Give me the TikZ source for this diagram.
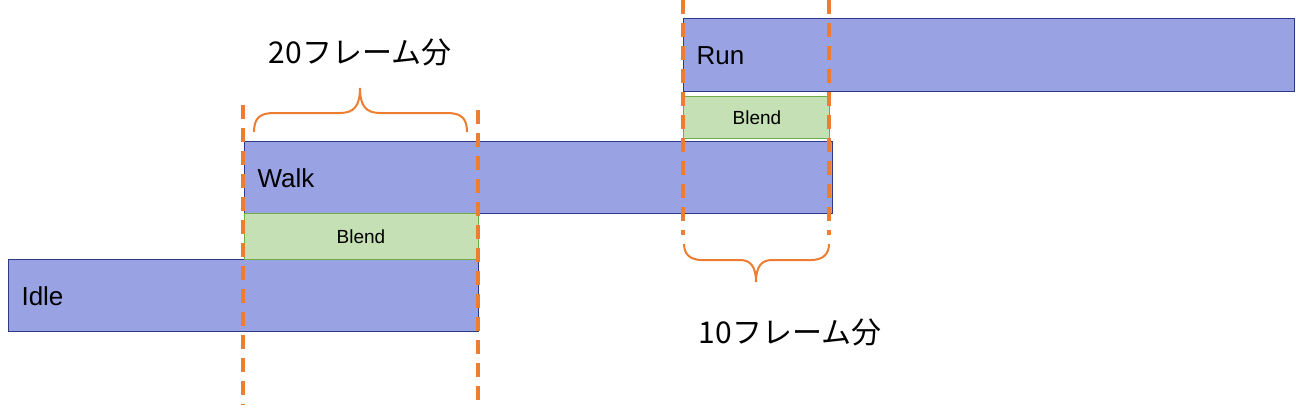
\documentclass[tikz,border=0pt]{standalone}
\usepackage{fontspec}
\setmainfont{Liberation Sans}
\newfontfamily\cjk{Noto Sans CJK JP}
\definecolor{bfill}{HTML}{99A3E3}
\definecolor{bdraw}{HTML}{2E3A87}
\definecolor{gfill}{HTML}{C5E0B4}
\definecolor{gdraw}{HTML}{70AD47}
\definecolor{org}{HTML}{ED7D31}
\begin{document}
\begin{tikzpicture}[x=1pt,y=-1pt,
  bar/.style={fill=bfill,draw=bdraw,line width=1pt},
  blend/.style={fill=gfill,draw=gdraw,line width=1pt},
  lbl/.style={anchor=west,font=\fontsize{26}{26}\selectfont},
  blbl/.style={font=\fontsize{19}{19}\selectfont},
  cut/.style={draw=org,line width=4pt,dash pattern=on 14pt off 9pt},
  brc/.style={draw=org,line width=2pt},
  note/.style={font=\cjk\fontsize{30}{30}\selectfont}]
\useasboundingbox (0,0) rectangle (1296,410);
\draw[bar] (8,259) rectangle (478,331);
\node[lbl] (idle) at (18,296) {Idle};
\draw[bar] (244,141) rectangle (832,213);
\node[lbl] (walk) at (254,178) {Walk};
\draw[blend] (244,213) rectangle (478,259);
\node[blbl] (b1) at (361,237) {Blend};
\draw[bar] (683,18) rectangle (1294,91);
\node[lbl] (run) at (693,56) {Run};
\draw[blend] (683,96) rectangle (829,138);
\node[blbl] (b2) at (757,118) {Blend};
\draw[cut] (243,105) -- (243,405);
\draw[cut] (478,110) -- (478,405);
\draw[cut] (683,0) -- (683,235);
\draw[cut] (829,0) -- (829,235);
\draw[brc] (254,132) .. controls (254,118) and (260,113) .. (274,113) -- (340,113)
  .. controls (354,113) and (360,106) .. (360,88)
  .. controls (360,106) and (366,113) .. (380,113) -- (447,113)
  .. controls (461,113) and (467,118) .. (467,132);
\draw[brc] (684,244) .. controls (684,254) and (690,260) .. (702,260) -- (740,260)
  .. controls (750,260) and (756,266) .. (756,282)
  .. controls (756,266) and (762,260) .. (772,260) -- (811,260)
  .. controls (823,260) and (829,254) .. (829,244);
\node[note] (n20) at (360,52) {20フレーム分};
\node[note] (n10) at (790,332) {10フレーム分};
\end{tikzpicture}
\end{document}
